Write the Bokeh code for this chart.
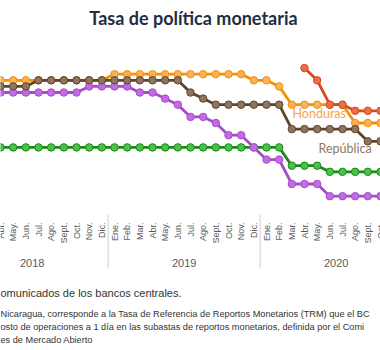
from bokeh.plotting import figure
from bokeh.models import Range1d, FixedTicker, ColumnDataSource
from bokeh.core.properties import value
from bokeh.embed import file_html
from bokeh.resources import INLINE

# ---- data (monthly, Abr. 2018 .. Oct. 2020) ----
months = ["Abr.", "May.", "Jun.", "Jul.", "Ago.", "Sept.", "Oct.", "Nov.", "Dic.",
          "Ene.", "Feb.", "Mar.", "Abr.", "May.", "Jun.", "Jul.", "Ago.", "Sept.", "Oct.", "Nov.", "Dic.",
          "Ene.", "Feb.", "Mar.", "Abr.", "May.", "Jun.", "Jul.", "Ago.", "Sept.", "Oct."]
years = ["2018", "2019", "2020"]
year_centers = [2.5, 14.5, 26.5]     # month-index centre of each year
year_breaks = [8.5, 20.5]

guatemala = [2.75] * 23 + [2.0] * 3 + [1.75] * 5
costa_rica = [5.0] * 7 + [5.25] * 4 + [5.0, 5.0, 4.75, 4.5, 4.0, 4.0, 3.75, 3.25, 3.25, 2.75, 2.25, 2.25] \
             + [1.25] * 3 + [0.75] * 5
honduras = [5.5] * 9 + [5.75] * 11 + [5.5, 5.5, 5.25] + [4.5] * 5 + [3.75] * 3
rep_dom = [5.25] * 3 + [5.5] * 12 + [5.0, 4.75] + [4.5] * 6 + [3.5] * 6 + [3.0] * 2
nicaragua_x = [24, 25, 26, 27, 28, 29, 30]
nicaragua = [6.0, 5.5, 4.5, 4.5, 4.25, 4.25, 4.25]

idx = list(range(len(months)))

W, H = 380, 350
PXX = 380 / 30.0      # px per month
PXY = 24.4            # px per percentage point
Y0 = 214              # pixel row of 0 %


def xd(px):
    return px / PXX


def yd(py):
    return (Y0 - py) / PXY


p = figure(width=W, height=H, output_backend="svg", toolbar_location=None,
           x_range=Range1d(0, 30), y_range=Range1d(yd(H), yd(0)),
           x_axis_type=None, y_axis_type=None, min_border=0)
p.outline_line_color = None
p.background_fill_color = "white"
p.border_fill_color = "white"
p.xgrid.visible = False
p.ygrid.ticker = FixedTicker(ticks=[i * 0.5 for i in range(15)])
p.ygrid.grid_line_color = "#dadada"
p.ygrid.grid_line_width = 1.6

series = [
    (guatemala, "#178a17", "#4cc04c"),
    (costa_rica, "#a24ec8", "#c46ae6"),
    (honduras, "#f39200", "#f9b15c"),
    (rep_dom, "#5e4528", "#8d7561"),
]
for vals, lc, fc in series:
    src = ColumnDataSource(dict(x=idx, y=vals))
    p.line("x", "y", source=src, line_color=lc, line_width=2.8)
    p.scatter("x", "y", source=src, size=7.5, fill_color=fc, line_color=lc, line_width=1)

src = ColumnDataSource(dict(x=nicaragua_x, y=nicaragua))
p.line("x", "y", source=src, line_color="#d64a1e", line_width=2.8)
p.scatter("x", "y", source=src, size=7.5, fill_color="#ec6d4a", line_color="#d64a1e", line_width=1)

# series labels
p.text(x=[xd(292)], y=[yd(113)], text=["Honduras"], text_color="#f7a545",
       text_font=value("Lato"), text_font_size="12.5px", text_align="left", text_baseline="middle")
p.text(x=[xd(318)], y=[yd(148)], text=["República"], text_color="#8d7a66",
       text_font=value("Lato"), text_font_size="12.5px", text_align="left", text_baseline="middle")

# x axis month labels (vertical)
p.text(x=idx, y=[yd(222)] * len(idx), text=months, angle=1.5708, text_color="#595959",
       text_font=value("Liberation Sans"), text_font_size="9px",
       text_align="right", text_baseline="middle")
# year separators and labels
p.segment(x0=year_breaks, y0=[yd(214)] * 2, x1=year_breaks, y1=[yd(268)] * 2,
          line_color="#d0d0d0", line_width=1)
p.text(x=year_centers, y=[yd(262)] * 3, text=years, text_color="#595959",
       text_font=value("Liberation Sans"), text_font_size="11px",
       text_align="center", text_baseline="middle")

# title
p.text(x=[xd(193)], y=[yd(17)], text=["Tasa de política monetaria"], text_color="#1f2d45",
       text_font=value("Lato"), text_font_style="bold", text_font_size="18px",
       text_align="center", text_baseline="middle")

# footnotes
p.text(x=[xd(0)], y=[yd(292)], text=["omunicados de los bancos centrales."], text_color="#333333",
       text_font=value("Liberation Sans"), text_font_size="11px",
       text_align="left", text_baseline="middle")
notes = ["Nicaragua, corresponde a la Tasa de Referencia de Reportos Monetarios (TRM) que el BC",
         "osto de operaciones a 1 día en las subastas de reportos monetarios, definida por el Comi",
         "es de Mercado Abierto"]
p.text(x=[xd(0)] * 3, y=[yd(313), yd(326), yd(339)], text=notes, text_color="#333333",
       text_font=value("Liberation Sans"), text_font_size="9.2px",
       text_align="left", text_baseline="middle")

open("out.html", "w").write(file_html(p, INLINE))
